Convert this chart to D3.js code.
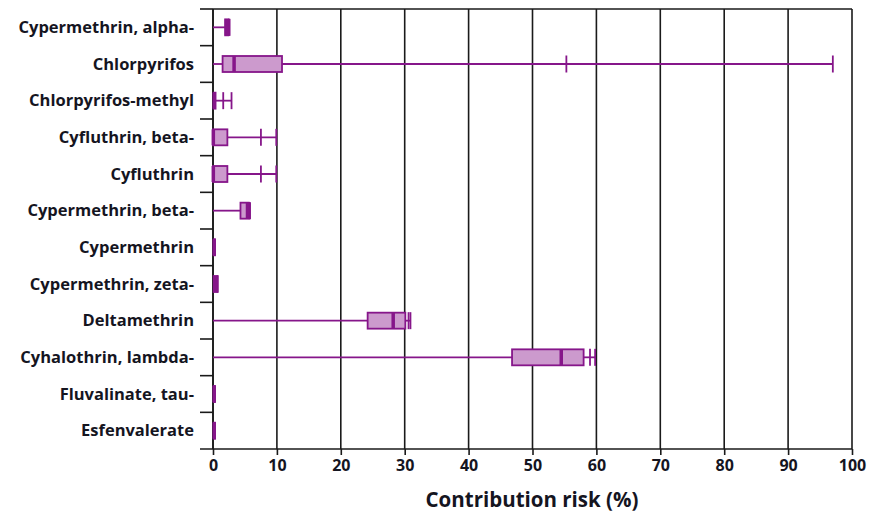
<!DOCTYPE html>
<html>
<head>
<meta charset="utf-8">
<script src="https://cdn.jsdelivr.net/npm/d3@7"></script>
<style>
  body { margin: 0; background: #fff; }
  text { font-family: "Open Sans", Lato, sans-serif; font-weight: bold; fill: #15151f; }
</style>
</head>
<body>
<div id="chart"></div>
<script>
// pesticides, top to bottom
var names = [
    'Cypermethrin, alpha-', 'Chlorpyrifos', 'Chlorpyrifos-methyl',
    'Cyfluthrin, beta-', 'Cyfluthrin', 'Cypermethrin, beta-',
    'Cypermethrin', 'Cypermethrin, zeta-', 'Deltamethrin',
    'Cyhalothrin, lambda-', 'Fluvalinate, tau-', 'Esfenvalerate'
];
// contribution risk (%) summary per pesticide
var minV = [0, 0, 0, 0, 0, 0, 0, 0, 0, 0, 0, 0];
var q1   = [1.9, 1.5, 0.1, 0, 0, 4.3, 0.1, 0.1, 24.2, 46.8, 0.1, 0.1];
var med  = [2.1, 3.3, 0.2, 0.05, 0.05, 5.4, 0.2, 0.4, 28.2, 54.5, 0.2, 0.2];
var q3   = [2.4, 10.8, 0.4, 2.25, 2.25, 5.6, 0.3, 0.7, 30.1, 58.0, 0.3, 0.3];
var p95  = [2.5, 55.3, 1.6, 7.5, 7.5, 5.7, 0.3, 0.7, 30.6, 59.0, 0.3, 0.3];
var maxV = [2.6, 97.0, 2.9, 9.9, 9.9, 5.8, 0.3, 0.7, 30.9, 59.8, 0.3, 0.3];
var xTicks = [0, 10, 20, 30, 40, 50, 60, 70, 80, 90, 100];

var width = 871, height = 513;
var margin = { top: 9, right: 20, bottom: 64, left: 213 };
var purple = '#86168a', fillCol = '#cc9acd';

var svg = d3.select('#chart').append('svg')
    .attr('width', width)
    .attr('height', height);

var x = d3.scaleLinear().domain([0, 100]).range([margin.left, width - margin.right + 1]);
var y = d3.scaleBand().domain(names).range([margin.top, height - margin.bottom]);

var data = names.map(function(n, i) {
    return { name: n, min: minV[i], q1: q1[i], med: med[i], q3: q3[i], p95: p95[i], max: maxV[i] };
});

// vertical gridlines
svg.append('g')
    .selectAll('line')
    .data(xTicks)
    .enter()
    .append('line')
    .attr('x1', d => x(d)).attr('x2', d => x(d))
    .attr('y1', margin.top).attr('y2', height - margin.bottom)
    .attr('stroke', '#1a1a1a')
    .attr('stroke-width', 1.6);

// top border
svg.append('line')
    .attr('x1', x(0)).attr('x2', x(100))
    .attr('y1', margin.top).attr('y2', margin.top)
    .attr('stroke', '#1a1a1a').attr('stroke-width', 1.6);

// x axis
var xAxis = svg.append('g')
    .attr('transform', 'translate(0,' + (height - margin.bottom) + ')')
    .call(d3.axisBottom(x).tickValues(xTicks).tickSize(6).tickSizeOuter(0));
xAxis.select('.domain').attr('d', 'M' + (x(0) - 13) + ',0H' + x(100))
    .attr('stroke', '#1a1a1a').attr('stroke-width', 1.6);
xAxis.selectAll('.tick line').attr('stroke', '#1a1a1a').attr('stroke-width', 1.6);
xAxis.selectAll('.tick text')
    .attr('y', 11)
    .attr('font-size', 16)
    .attr('font-family', '"Open Sans", sans-serif')
    .attr('font-weight', 'bold')
    .attr('fill', '#15151f');

// y axis: ticks sit on the row boundaries
var yAxis = svg.append('g');
yAxis.append('line')
    .attr('x1', x(0)).attr('x2', x(0))
    .attr('y1', margin.top).attr('y2', height - margin.bottom)
    .attr('stroke', '#1a1a1a').attr('stroke-width', 1.6);
yAxis.selectAll('line.tk')
    .data(names)
    .enter()
    .append('line')
    .attr('class', 'tk')
    .attr('x1', x(0) - 13).attr('x2', x(0))
    .attr('y1', d => y(d)).attr('y2', d => y(d))
    .attr('stroke', '#1a1a1a').attr('stroke-width', 1.6);
yAxis.selectAll('text')
    .data(names)
    .enter()
    .append('text')
    .attr('x', x(0) - 19)
    .attr('y', d => y(d) + y.bandwidth() / 2)
    .attr('dy', '0.35em')
    .attr('text-anchor', 'end')
    .attr('font-size', 16.5)
    .text(d => d);

// boxes
var boxH = 16, capH = 17;
var rows = svg.append('g')
    .selectAll('g')
    .data(data)
    .enter()
    .append('g')
    .attr('transform', d => 'translate(0,' + (y(d.name) + y.bandwidth() / 2) + ')');

// whiskers
rows.append('line')
    .attr('x1', d => x(d.min)).attr('x2', d => x(d.q1))
    .attr('stroke', purple).attr('stroke-width', 1.8);
rows.append('line')
    .attr('x1', d => x(d.q3)).attr('x2', d => x(d.max))
    .attr('stroke', purple).attr('stroke-width', 1.8);
rows.append('line')
    .attr('x1', d => x(d.p95)).attr('x2', d => x(d.p95))
    .attr('y1', -capH / 2).attr('y2', capH / 2)
    .attr('stroke', purple).attr('stroke-width', 1.8);
rows.append('line')
    .attr('x1', d => x(d.max)).attr('x2', d => x(d.max))
    .attr('y1', -capH / 2).attr('y2', capH / 2)
    .attr('stroke', purple).attr('stroke-width', 1.8);

rows.append('rect')
    .attr('x', d => x(d.q1))
    .attr('y', -boxH / 2)
    .attr('width', d => x(d.q3) - x(d.q1))
    .attr('height', boxH)
    .attr('fill', fillCol)
    .attr('stroke', purple)
    .attr('stroke-width', 1.8);
rows.append('line')
    .attr('x1', d => x(d.med)).attr('x2', d => x(d.med))
    .attr('y1', -boxH / 2).attr('y2', boxH / 2)
    .attr('stroke', purple).attr('stroke-width', 3.5);

// axis title
svg.append('text')
    .attr('x', 532)
    .attr('y', 507)
    .attr('text-anchor', 'middle')
    .attr('font-size', 20.5)
    .text('Contribution risk (%)');
</script>
</body>
</html>
